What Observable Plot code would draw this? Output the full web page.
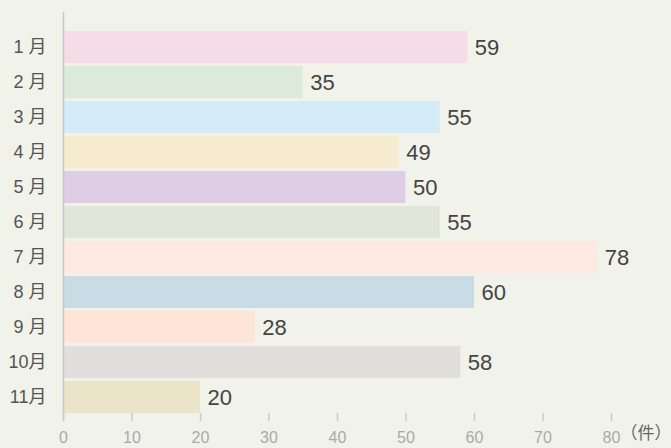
<!DOCTYPE html>
<html>
<head>
<meta charset="utf-8">
<script src="https://cdn.jsdelivr.net/npm/d3@7"></script>
<script src="https://cdn.jsdelivr.net/npm/@observablehq/plot@0.6"></script>
<style>
  html, body { margin: 0; padding: 0; background: #f1f2ea; }
  #chart svg { display: block; }
</style>
</head>
<body>
<div id="chart"></div>
<script>
const months = ["1 月", "2 月", "3 月", "4 月", "5 月", "6 月", "7 月", "8 月", "9 月", "10月", "11月"];
const counts = [59, 35, 55, 49, 50, 55, 78, 60, 28, 58, 20];
const colors = ["#f6dce7", "#dcebd9", "#d3ecf8", "#f7ebcf", "#decde5", "#e0e7d9", "#fde9e1", "#c9dbe5", "#fee5d8", "#e2dedb", "#ebe4c8"];
const xTicks = [0, 10, 20, 30, 40, 50, 60, 70, 80];
const unitLabel = "（件）";

const data = months.map((m, i) => ({month: m, count: counts[i], color: colors[i]}));
const font = "'Liberation Sans', Arial, 'Noto Sans CJK SC', sans-serif";

const chart = Plot.plot({
  width: 671,
  height: 448,
  marginTop: 12,
  marginBottom: 27,
  marginLeft: 63,
  marginRight: 60,
  insetTop: 16,
  insetBottom: 5,
  style: {background: "#f1f2ea", fontFamily: font, overflow: "visible"},
  x: {domain: [0, 80], label: null},
  y: {domain: months, padding: 0.086, round: false, label: null},
  marks: [
    Plot.barX(data, {y: "month", x: "count", fill: "color"}),
    Plot.text(data, {y: "month", x: "count", text: d => String(d.count), textAnchor: "start", dx: 7, fontSize: 22, fill: "#444"}),
    Plot.ruleX([0], {stroke: "#c8c8c8", strokeWidth: 1.5}),
    Plot.ruleY([0], {frameAnchor: "bottom", stroke: "#c8c8c8", strokeWidth: 1.5, x1: 0, x2: 80}),
    Plot.ruleX(xTicks, {x: d => d, insetTop: 401, stroke: "#c8c8c8", strokeWidth: 1.5}),
    Plot.axisX({ticks: xTicks, tickSize: 0, tickPadding: 10, fontSize: 16, fill: "#aaa", tickFormat: d => String(d), label: null}),
    Plot.axisY({tickSize: 0, tickPadding: 17, fontSize: 18, fill: "#555", label: null}),
    Plot.text([unitLabel], {x: () => 80, frameAnchor: "bottom", dy: 17, dx: 9, textAnchor: "start", fontSize: 17, fill: "#666", fontFamily: "'Noto Sans CJK SC', sans-serif"})
  ]
});
document.getElementById("chart").appendChild(chart);
</script>
</body>
</html>
